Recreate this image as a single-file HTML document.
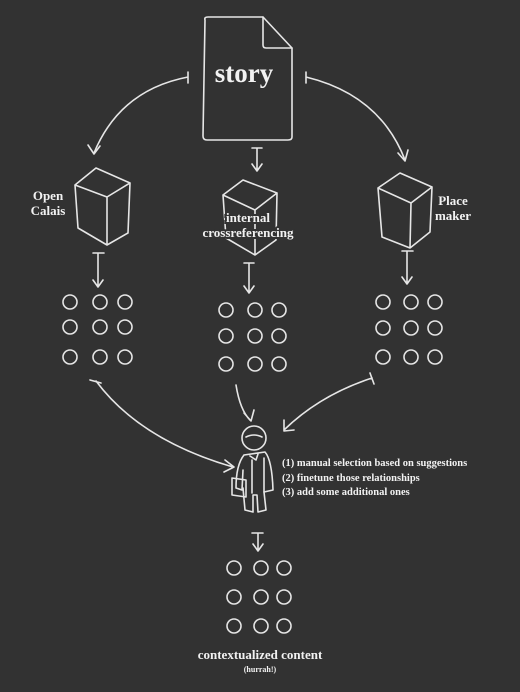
<!DOCTYPE html>
<html><head><style>
html,body{margin:0;padding:0;background:#323232;}
svg{display:block}
text{font-family:"Liberation Serif",serif;fill:#f2f2f2;font-weight:bold}
</style></head><body>
<svg width="520" height="692" viewBox="0 0 520 692" xmlns="http://www.w3.org/2000/svg">
<rect width="520" height="692" fill="#323232"/>
<g fill="none" stroke="#e6e6e6" stroke-width="1.6" stroke-linecap="round" stroke-linejoin="round">
<path d="M205,20 Q204,17 208,17 L263,17 L292,48 L292,137 Q292,140 288,140 L207,140 Q203,140 203,136 Z"/>
<path d="M263,17 L263,45 Q263,48 266,48 L292,48"/>
<path d="M188,72 L188,83 M188,77 Q120,90 94,153"/>
<path d="M88,145 L94,154 L100,146"/>
<path d="M306,72 L306,83 M306,77 Q380,95 405,160"/>
<path d="M398,153 L405,161 L408,150"/>
<path d="M252,148 L262,148 M257,148 L257,170 M252,164 L257,171 L262,164"/>
<path d="M75,185 L96,168 L130,183 L128,233 L107,245 L78,228 Z M75,185 L107,197 L130,183 M107,197 L107,245"/>
<path d="M223,195 L243,180 L277,193 L276,240 L255,255 L226,238 Z M223,195 L255,210 L277,193 M255,210 L255,255"/>
<path d="M378,188 L400,173 L432,187 L430,232 L410,248 L382,237 Z M378,188 L411,203 L432,187 M411,203 L410,248"/>
<path d="M93,253 L104,253 M98,253 L98,286 M93,280 L98,287 L103,280"/>
<path d="M244,263 L254,263 M249,263 L249,292 M244,286 L249,293 L254,286"/>
<path d="M402,251 L413,251 M407,251 L407,283 M402,277 L407,284 L412,277"/>
<g>
<circle cx="70" cy="302" r="7"/><circle cx="100" cy="302" r="7"/><circle cx="125" cy="302" r="7"/>
<circle cx="70" cy="327" r="7"/><circle cx="100" cy="327" r="7"/><circle cx="125" cy="327" r="7"/>
<circle cx="70" cy="357" r="7"/><circle cx="100" cy="357" r="7"/><circle cx="125" cy="357" r="7"/>
<circle cx="226" cy="310" r="7"/><circle cx="255" cy="310" r="7"/><circle cx="279" cy="310" r="7"/>
<circle cx="226" cy="336" r="7"/><circle cx="255" cy="336" r="7"/><circle cx="279" cy="336" r="7"/>
<circle cx="226" cy="364" r="7"/><circle cx="255" cy="364" r="7"/><circle cx="279" cy="364" r="7"/>
<circle cx="383" cy="302" r="7"/><circle cx="411" cy="302" r="7"/><circle cx="435" cy="302" r="7"/>
<circle cx="383" cy="328" r="7"/><circle cx="411" cy="328" r="7"/><circle cx="435" cy="328" r="7"/>
<circle cx="383" cy="357" r="7"/><circle cx="411" cy="357" r="7"/><circle cx="435" cy="357" r="7"/>
<circle cx="234" cy="568" r="7"/><circle cx="261" cy="568" r="7"/><circle cx="284" cy="568" r="7"/>
<circle cx="234" cy="597" r="7"/><circle cx="261" cy="597" r="7"/><circle cx="284" cy="597" r="7"/>
<circle cx="234" cy="626" r="7"/><circle cx="261" cy="626" r="7"/><circle cx="284" cy="626" r="7"/>
</g>
<path d="M90,380 L101,383 M96,381 Q140,440 233,467 M225,460 L234,467 L224,472"/>
<path d="M236,385 Q240,410 250,420 M244,413 L251,421 L254,410"/>
<path d="M370,373 L374,384 M372,378 Q320,395 284,430 M284,420 L284,431 L294,430"/>
<ellipse cx="254" cy="438" rx="12" ry="12"/>
<path d="M246,437 Q254,433 262,437"/>
<path d="M244,455 Q236,465 236,488 L242,490 L243,470 M244,455 L265,452 Q272,460 273,490 L264,492 L264,458 M250,456 L256,460 L258,454"/>
<path d="M243,488 L245,510 L253,512 L253,495 L257,495 L258,512 L266,510 L264,492"/>
<path d="M232,478 L232,495 L246,497 L246,480 Z"/>
<path d="M252,460 L252,493"/>
<path d="M252,533 L263,533 M258,533 L258,550 M253,544 L258,551 L263,544"/>
</g>
<text x="244" y="82" font-size="27" text-anchor="middle">story</text>
<text x="48" y="200" font-size="13" text-anchor="middle">Open</text>
<text x="48" y="215" font-size="13" text-anchor="middle">Calais</text>
<g stroke="#323232" stroke-width="4" paint-order="stroke">
<text x="248" y="222" font-size="13" text-anchor="middle">internal</text>
<text x="248" y="237" font-size="13" text-anchor="middle">crossreferencing</text>
</g>
<text x="453" y="205" font-size="13" text-anchor="middle">Place</text>
<text x="453" y="220" font-size="13" text-anchor="middle">maker</text>
<text x="282" y="466" font-size="10.5">(1) manual selection based on suggestions</text>
<text x="282" y="481" font-size="10.5">(2) finetune those relationships</text>
<text x="282" y="495" font-size="10.5">(3) add some additional ones</text>
<text x="260" y="659" font-size="13" text-anchor="middle">contextualized content</text>
<text x="260" y="672" font-size="8" text-anchor="middle">(hurrah!)</text>
</svg>
</body></html>
